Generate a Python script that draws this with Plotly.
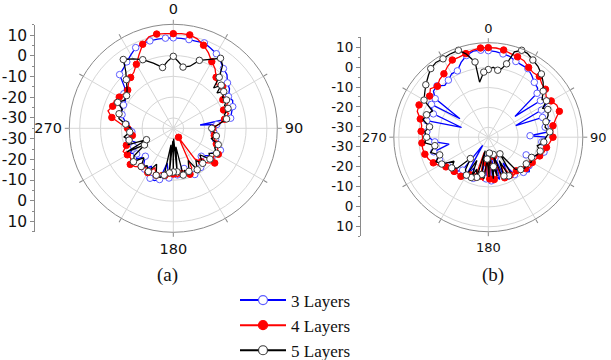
import plotly.graph_objects as go

# ---------------- panel (a): pattern in dB versus angle (deg) ----------------
A3_THETA = [0, 5, 10, 15, 20, 25, 30, 35, 40, 45, 50, 55, 60, 65, 70, 75, 80, 83, 85, 90,
            95, 100, 105, 110, 115, 120, 125, 130, 135, 140, 145, 150, 155, 160, 165, 170,
            175, 180, 185, 190, 195, 200, 205, 210, 215, 220, 225, 230, 235, 240, 245, 250,
            255, 260, 265, 270, 275, 280, 285, 290, 295, 300, 305, 310, 315, 320, 325, 330,
            335, 340, 345, 350, 355]
A3_DB = [8.5, 8.4, 8.3, 8.3, 8.7, 7.5, 6.4, 4.5, 2.5, 1.5, -1.0, -2.0, -4.4, -3.5, -4.6, -6.0,
         -7.0, -22.0, -14.0, -15.5, -15.5, -15.3, -14.0, -12.3, -10.0, -10.5, -12.0, -14.5,
         -16.0, -15.0, -12.0, -11.0, -10.5, -11.0, -15.0, -11.3, -12.5, -12.5, -11.0, -18.0,
         -9.5, -8.2, -8.5, -14.0, -11.0, -13.0, -16.0, -12.0, -13.5, -11.0, -14.0, -15.5,
         -13.0, -14.0, -15.0, -15.0, -12.3, -11.0, -9.5, -8.5, -8.6, -8.4, -6.0, -4.5, 1.5,
         2.4, 4.0, 5.8, 7.8, 8.3, 8.5, 8.5, 8.5]

A4_THETA = [0, 5, 10, 15, 20, 25, 30, 35, 40, 45, 50, 55, 60, 65, 70, 75, 80, 85, 90, 95,
            100, 105, 110, 115, 120, 125, 130, 135, 140, 145, 150, 155, 160, 165, 170, 175,
            180, 185, 190, 195, 200, 205, 210, 215, 220, 225, 230, 235, 240, 245, 250, 255,
            260, 265, 270, 275, 280, 285, 290, 295, 300, 305, 310, 315, 320, 325, 330, 335,
            340, 345, 350, 355]
A4_DB = [10.5, 10.7, 10.6, 9.5, 7.5, 5.0, 2.0, 0.0, -3.0, -5.4, -4.0, -5.5, -7.5, -6.0, -9.3,
         -7.5, -10.0, -13.0, -16.0, -16.5, -15.0, -14.5, -13.0, -11.5, -10.0, -11.5, -9.0,
         -11.5, -14.0, -17.0, -30.0, -14.0, -11.5, -12.5, -13.0, -11.5, -13.0, -12.0, -12.0,
         -13.0, -11.0, -14.0, -10.4, -12.0, -11.0, -9.0, -8.0, -10.0, -9.5, -8.4, -11.0,
         -13.0, -15.0, -14.0, -13.0, -9.6, -5.0, -2.5, -4.0, -3.7, -5.0, -6.0, -6.4, -4.5,
         -3.1, -2.0, 0.5, 4.0, 8.0, 10.5, 11.0, 10.7]

A5_THETA = [0, 4, 9, 15, 21, 28, 34, 38, 42, 45, 48, 51, 54, 58, 62, 66, 70, 75, 80, 85, 90,
            95, 100, 105, 110, 115, 120, 125, 130, 135, 140, 145, 150, 155, 160, 165, 168, 172,
            175, 178, 180, 182, 185, 188, 191, 195, 200, 205, 210, 215, 220, 225, 230, 235,
            240, 243, 247, 250, 255, 260, 265, 270, 275, 280, 285, 290, 295, 300, 305, 310,
            316, 320, 324, 330, 336, 343, 350, 355]
A5_DB = [-0.4, -2.7, -5.2, -4.1, 0.0, 2.5, 5.6, 3.5, -2.0, -7.6, -4.0, -8.0, -5.0, -7.0, -6.0,
         -8.0, -7.0, -9.5, -9.0, -13.0, -16.5, -15.5, -14.0, -16.0, -12.0, -13.0, -11.0,
         -14.0, -12.0, -17.0, -13.0, -16.0, -12.0, -18.0, -13.0, -14.0, -12.0, -26.0, -14.0,
         -30.0, -14.0, -29.0, -13.5, -27.0, -12.0, -10.5, -11.0, -16.0, -11.0, -13.0, -11.0,
         -15.0, -10.0, -12.0, -19.0, -10.0, -21.0, -12.0, -13.0, -11.0, -14.0, -14.5, -12.0,
         -8.5, -8.0, -9.0, -5.5, -8.0, -7.6, -6.0, -2.5, 0.5, 5.9, 3.5, 1.1, -2.2, -5.3, -2.7]

# ---------------- panel (b) ----------------
B3_THETA = [0, 5, 10, 15, 20, 25, 30, 35, 40, 45, 48, 52, 55, 60, 63, 67, 70, 75, 80, 85, 88,
            90, 95, 100, 105, 110, 115, 120, 125, 130, 135, 140, 145, 150, 153, 158, 162, 165,
            170, 173, 176, 180, 183, 186, 190, 195, 200, 205, 210, 215, 218, 222, 225, 230,
            235, 240, 245, 250, 255, 260, 265, 270, 275, 280, 285, 290, 293, 297, 300, 303,
            306, 310, 315, 320, 325, 330, 335, 340, 345, 350, 355]
B3_DB = [8.5, 8.2, 7.5, 7.0, 5.5, 5.0, 4.8, 3.0, 1.0, 0.0, -2.0, -18.0, -3.0, -1.0, -5.0,
         -20.0, -6.0, -3.0, -6.0, -5.0, -14.0, -6.0, -8.0, -4.0, -6.0, -7.0, -14.0, -9.0,
         -10.0, -8.1, -10.0, -14.0, -12.0, -20.0, -13.0, -12.0, -24.0, -13.0, -16.0, -28.0,
         -13.0, -15.0, -14.0, -26.0, -16.0, -15.0, -13.0, -18.0, -13.0, -30.0, -14.0, -12.0,
         -11.0, -12.0, -10.0, -9.0, -8.0, -10.0, -6.6, -15.0, -8.0, -5.0, -4.0, -5.0, -3.0,
         -20.7, -5.0, -3.0, -2.0, -18.0, -2.0, 1.0, 1.5, -1.0, 0.0, 1.8, 1.8, 5.0, 7.5, 8.9,
         8.9]

B4_THETA = [0, 5, 10, 15, 20, 25, 30, 35, 40, 45, 50, 55, 60, 65, 70, 75, 80, 85, 90, 95,
            100, 105, 110, 115, 120, 125, 130, 135, 140, 145, 150, 155, 158, 162, 165, 168,
            172, 175, 178, 181, 184, 187, 191, 195, 198, 202, 206, 210, 215, 220, 225, 230,
            235, 240, 245, 250, 255, 260, 265, 270, 275, 280, 285, 290, 295, 300, 305, 310,
            315, 320, 325, 330, 335, 340, 345, 350, 355]
B4_DB = [10.0, 10.0, 9.5, 8.5, 8.0, 7.4, 5.5, 4.5, 4.9, 3.0, 2.5, 0.5, 1.5, 3.0, 3.0, 0.0,
         -2.0, -2.5, -2.5, -4.0, -5.3, -6.0, -7.5, -8.7, -9.5, -9.0, -10.5, -12.0, -13.0,
         -12.0, -13.0, -20.0, -13.0, -14.0, -25.0, -14.0, -13.5, -24.0, -14.0, -14.0, -22.0,
         -13.0, -15.0, -27.0, -14.0, -13.0, -14.0, -12.0, -11.0, -11.0, -10.7, -10.0, -9.0,
         -6.5, -4.5, -3.0, -2.0, -1.5, -1.5, -2.0, -1.1, -1.0, 0.4, 3.0, 3.4, 2.0, 1.0, 3.0,
         1.2, 3.0, 3.9, 6.0, 7.8, 7.8, 8.5, 9.5, 10.0]

B5_THETA = [0, 4, 8, 11, 14, 17, 21, 25, 30, 35, 40, 45, 50, 55, 58, 62, 65, 70, 75, 80, 85,
            90, 95, 100, 105, 110, 115, 120, 125, 130, 135, 140, 145, 148, 152, 155, 158, 161,
            164, 167, 170, 173, 176, 179, 183, 186, 190, 193, 196, 200, 203, 206, 210, 215,
            220, 225, 230, 235, 240, 245, 250, 255, 261, 265, 270, 275, 280, 285, 290, 295,
            300, 305, 310, 316, 320, 325, 330, 335, 341, 345, 350, 351, 356]
B5_DB = [-1.0, 0.3, -1.0, 0.1, 3.0, 9.9, 11.8, 11.5, 9.8, 8.5, 6.5, 4.0, 1.0, -2.0, -0.5,
         -4.0, -2.0, -3.0, -5.0, -6.0, -4.0, -6.0, -7.0, -10.0, -8.0, -9.0, -11.0, -10.0,
         -11.7, -11.0, -12.0, -14.0, -24.8, -14.0, -13.0, -22.0, -14.0, -15.0, -26.0, -15.0,
         -20.0, -14.0, -27.0, -15.0, -24.0, -14.0, -16.0, -28.0, -14.0, -18.0, -13.0, -22.0,
         -13.0, -15.0, -21.0, -13.0, -11.0, -14.0, -8.0, -6.0, -9.0, -5.0, -7.8, -3.0, -4.0,
         -3.0, -5.0, -1.0, -2.0, -4.0, 2.3, 4.0, 6.0, 8.3, 10.0, 10.9, 10.5, 11.0, 11.2, 8.4,
         3.4, -7.0, -2.2]

NAMES = ["3 Layers", "4 Layers", "5 Layers"]
LINE_COLORS = ["#0000ff", "#ff0000", "#000000"]
MARKER_FILLS = ["#ffffff", "#ff0000", "#ffffff"]
MARKER_EDGES = ["#5c5cff", "#ff0000", "#3a3a3a"]

ANGLE_TICKS = list(range(0, 360, 30))
ANGLE_TEXT = ["0", "", "", "90", "", "", "180", "", "", "270", "", ""]
DB_LABELS = ["10", "0", "-10", "-20", "-30", "-30", "-20", "-10", "0", "10"]
DB_LEVELS = [10, 0, -10, -20, -30, -30, -20, -10, 0, 10]
R_MIN = -35

GRID = "#d6d6d6"
RIM = "#8a8a8a"

fig = go.Figure()


def add_pattern(subplot, theta, db, k):
    th = list(theta) + [theta[0]]
    r = list(db) + [db[0]]
    fig.add_trace(go.Scatterpolar(
        theta=th, r=r, mode="lines", subplot=subplot, showlegend=False,
        line=dict(color=LINE_COLORS[k], width=1.3), hoverinfo="skip"))
    fig.add_trace(go.Scatterpolar(
        theta=theta[::2], r=db[::2], mode="markers", subplot=subplot, showlegend=False,
        marker=dict(size=6.5, color=MARKER_FILLS[k],
                    line=dict(color=MARKER_EDGES[k], width=1)),
        hoverinfo="skip"))


for k, (th, db) in enumerate([(A3_THETA, A3_DB), (A4_THETA, A4_DB), (A5_THETA, A5_DB)]):
    add_pattern("polar", th, db, k)
for k, (th, db) in enumerate([(B3_THETA, B3_DB), (B4_THETA, B4_DB), (B5_THETA, B5_DB)]):
    add_pattern("polar2", th, db, k)

# legend entries
for k in range(3):
    fig.add_trace(go.Scatterpolar(
        theta=[None], r=[None], mode="lines+markers", name=NAMES[k], subplot="polar",
        line=dict(color=LINE_COLORS[k], width=2),
        marker=dict(size=9, color=MARKER_FILLS[k], line=dict(color=MARKER_EDGES[k], width=1.2))))

# carriers for the two stand-alone dB scales
fig.add_trace(go.Scatter(x=[None], y=[None], xaxis="x", yaxis="y", showlegend=False))
fig.add_trace(go.Scatter(x=[None], y=[None], xaxis="x2", yaxis="y2", showlegend=False))


def polar_layout(xdom, ydom, rmax, fsize):
    return dict(
        domain=dict(x=xdom, y=ydom),
        bgcolor="white",
        angularaxis=dict(rotation=90, direction="clockwise", tickmode="array",
                         tickvals=ANGLE_TICKS, ticktext=ANGLE_TEXT,
                         ticks="outside", ticklen=4, tickcolor=RIM,
                         linecolor=RIM, linewidth=1, showgrid=True, gridcolor=GRID,
                         gridwidth=1,
                         tickfont=dict(family="DejaVu Sans", size=fsize, color="#111111")),
        radialaxis=dict(range=[R_MIN, rmax], tickmode="array",
                        tickvals=[-30, -20, -10, 0, 10], showticklabels=False,
                        ticks="", showline=False, showgrid=True, gridcolor=GRID,
                        gridwidth=1),
    )


def scale_axis(pos, ydom, fsize):
    tv = [(v - R_MIN) if i < 5 else -(v - R_MIN) for i, v in enumerate(DB_LEVELS)]
    return dict(
        anchor="free", position=pos, domain=ydom, range=[-50, 50],
        tickmode="array", tickvals=tv, ticktext=DB_LABELS,
        ticks="outside", ticklen=4, tickcolor="#8a8a8a",
        showline=True, linecolor="#8a8a8a", linewidth=1,
        showgrid=False, zeroline=False, fixedrange=True, automargin=False,
        minor=dict(tickmode="linear", tick0=0, dtick=5, ticks="outside",
                   ticklen=2, tickcolor="#8a8a8a"),
        tickfont=dict(family="DejaVu Sans", size=fsize, color="#111111"),
    )


W, H = 611, 360
CAPTION_FONT = dict(family="Liberation Serif", size=19, color="#111111")
fig.update_layout(
    width=W, height=H, template="none",
    margin=dict(l=0, r=0, t=0, b=0, pad=0, autoexpand=False),
    paper_bgcolor="white", plot_bgcolor="rgba(0,0,0,0)",
    polar=polar_layout([69.3 / W, 277.3 / W], [127.7 / H, 335.7 / H], 15, 14.5),
    polar2=polar_layout([393.8 / W, 582.8 / W], [128.3 / H, 317.3 / H], 12.5, 13),
    xaxis=dict(domain=[0, 0.05], range=[0, 1], visible=False, fixedrange=True),
    xaxis2=dict(domain=[0.55, 0.58], range=[0, 1], visible=False, fixedrange=True),
    yaxis=scale_axis(34.3 / W, [128.2 / H, 335.2 / H], 15.5),
    yaxis2=scale_axis(360.0 / W, [124.0 / H, 322.6 / H], 13.5),
    showlegend=True,
    legend=dict(x=235 / W, y=1 - 282.5 / H, xanchor="left", yanchor="top",
                font=dict(family="Liberation Serif", size=17, color="#111111"),
                itemwidth=46, bgcolor="rgba(0,0,0,0)", tracegroupgap=0),
    annotations=[
        dict(text="(a)", x=167.3 / W, y=1 - 275 / H, xref="paper", yref="paper",
             xanchor="center", yanchor="middle", showarrow=False, font=CAPTION_FONT),
        dict(text="(b)", x=493 / W, y=1 - 275 / H, xref="paper", yref="paper",
             xanchor="center", yanchor="middle", showarrow=False, font=CAPTION_FONT),
    ],
)

fig.write_html("out.html")
